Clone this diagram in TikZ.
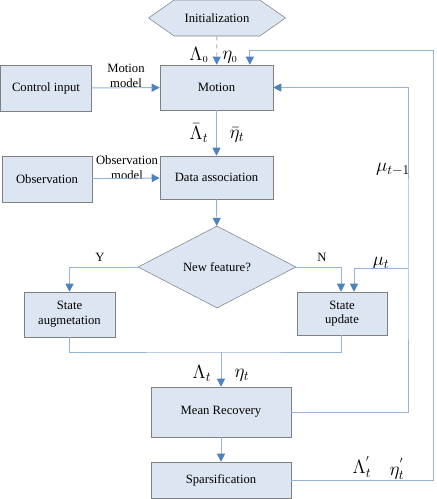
\documentclass[tikz,border=0pt]{standalone}
\usepackage{fontspec}
\setmainfont{Liberation Serif}
\usetikzlibrary{shapes.geometric,shapes.symbols,arrows.meta}
\definecolor{boxfill}{RGB}{220,230,242}
\definecolor{boxline}{RGB}{128,128,128}
\definecolor{wire}{RGB}{149,179,215}
\definecolor{tip}{RGB}{79,129,189}
\begin{document}
\begin{tikzpicture}[x=0.75pt, y=-0.75pt, font=\fontsize{9.5}{11}\selectfont]
\tikzstyle{box}=[draw=boxline, fill=boxfill, shape=rectangle, align=center, inner sep=1pt]
\tikzstyle{lbl}=[inner sep=0pt, font=\Large]
\tikzstyle{txt}=[inner sep=0pt, align=center]
\tikzstyle{flow}=[draw=wire, line width=0.7pt, -{Triangle[length=6pt,width=6pt,color=tip]}]
\tikzstyle{wire}=[draw=wire, line width=0.7pt]
\useasboundingbox (0,0) rectangle (436,499);
\node[draw=boxline, fill=boxfill, shape=signal, signal to=west and east, signal pointer angle=70, minimum width=102.75pt, minimum height=27pt, inner sep=0pt] (init) at (217, 18) {Initialization};
\node[box, minimum width=84.75pt, minimum height=33.75pt] (motion) at (216.5, 87.5) {Motion};
\node[box, minimum width=68.25pt, minimum height=34.5pt] (ctrl) at (46, 88) {Control input};
\node[box, minimum width=67.5pt, minimum height=34.5pt] (obs) at (47, 179) {Observation};
\node[box, minimum width=84.75pt, minimum height=32.25pt] (assoc) at (216.5, 177.5) {Data association};
\node[draw=boxline, fill=boxfill, shape=diamond, aspect=1.93, minimum width=118.5pt, minimum height=61.5pt, inner sep=0pt] (feature) at (217, 267) {New feature?};
\node[box, minimum width=68.25pt, minimum height=33.75pt] (aug) at (69.5, 314.5) {State\\augmetation};
\node[box, minimum width=67.5pt, minimum height=32.25pt] (upd) at (342, 313.5) {State\\update};
\node[box, minimum width=105pt, minimum height=37.5pt] (mean) at (221, 412) {Mean Recovery};
\node[box, minimum width=105pt, minimum height=27pt] (spars) at (221, 480) {Sparsification};
\coordinate (mu) at (408, 268);
\coordinate (loop) at (433, 50);
\coordinate (merge) at (221, 352);
% labels
\node[txt] (mmodel) at (126, 76) {Motion\\model};
\node[txt] (omodel) at (127, 168) {Observation\\model};
\node[lbl] (lam0) at (199, 55) {$\Lambda_{\scriptscriptstyle 0}$};
\node[lbl] (eta0) at (230, 57) {$\eta_{\scriptscriptstyle 0}$};
\node[lbl] (lambar) at (199, 133) {$\bar{\Lambda}_t$};
\node[lbl] (etabar) at (237, 135) {$\bar{\eta}_t$};
\node[lbl] (mutm) at (393, 169) {$\mu_{t-1}$};
\node[lbl] (mut) at (381, 263) {$\mu_t$};
\node[txt] (yes) at (100, 257) {Y};
\node[txt] (no) at (322, 257) {N};
\node[lbl] (lamt) at (202, 373) {$\Lambda_t$};
\node[lbl] (etat) at (242, 375) {$\eta_t$};
\node[lbl] (lamp) at (362, 467) {$\Lambda_t^{'}$};
\node[lbl] (etap) at (397, 469) {$\eta_t^{'}$};
% connectors
\draw[flow, dashed] (init) -- (motion);
\draw[flow] (ctrl) -- (motion);
\draw[flow] (obs) -- (assoc);
\draw[flow] (motion) -- (assoc);
\draw[flow] (assoc) -- (feature);
\draw[flow] (feature.west) -| (aug.north);
\draw[flow] (feature.east) -| ([xshift=-0.75pt]upd.north);
\draw[flow] (mu) -| ([xshift=9pt]upd.north);
\draw[wire] (aug.south) |- (merge) -| ([xshift=-0.75pt]upd.south);
\draw[flow] (merge) -- (mean);
\draw[flow] (mean) -- (spars);
\draw[flow] (mean.east) -| (mu) |- (motion.east);
\draw[flow] (spars.east) -| (loop) -| ([xshift=25pt]motion.north);
\end{tikzpicture}
\end{document}
